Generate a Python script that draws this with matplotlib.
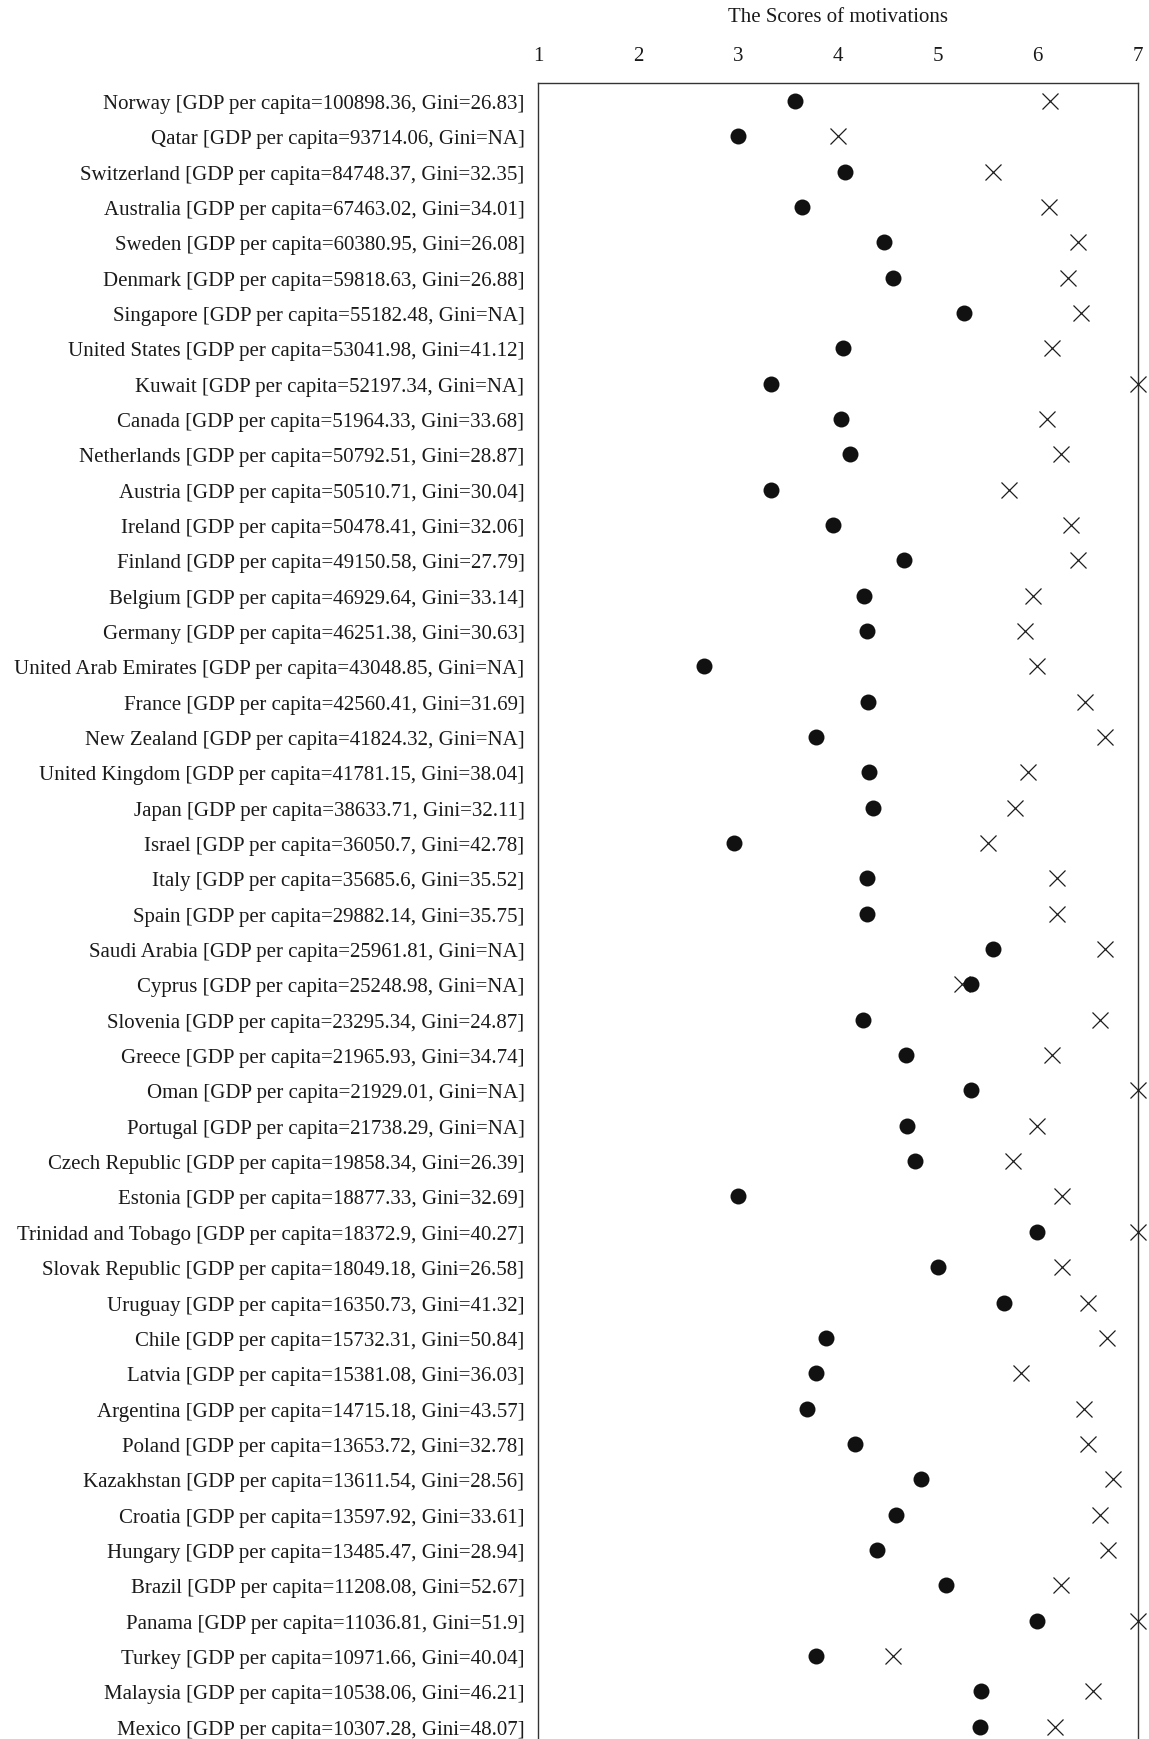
import matplotlib
matplotlib.use('Agg')
import matplotlib.pyplot as plt

plt.rcParams['font.family'] = ['Liberation Serif', 'DejaVu Serif']

countries = ['Norway', 'Qatar', 'Switzerland', 'Australia', 'Sweden', 'Denmark', 'Singapore',
             'United States', 'Kuwait', 'Canada', 'Netherlands', 'Austria', 'Ireland', 'Finland',
             'Belgium', 'Germany', 'United Arab Emirates', 'France', 'New Zealand', 'United Kingdom',
             'Japan', 'Israel', 'Italy', 'Spain', 'Saudi Arabia', 'Cyprus', 'Slovenia', 'Greece',
             'Oman', 'Portugal', 'Czech Republic', 'Estonia', 'Trinidad and Tobago', 'Slovak Republic',
             'Uruguay', 'Chile', 'Latvia', 'Argentina', 'Poland', 'Kazakhstan', 'Croatia', 'Hungary',
             'Brazil', 'Panama', 'Turkey', 'Malaysia', 'Mexico']
gdp = ['100898.36', '93714.06', '84748.37', '67463.02', '60380.95', '59818.63', '55182.48',
       '53041.98', '52197.34', '51964.33', '50792.51', '50510.71', '50478.41', '49150.58',
       '46929.64', '46251.38', '43048.85', '42560.41', '41824.32', '41781.15',
       '38633.71', '36050.7', '35685.6', '29882.14', '25961.81', '25248.98', '23295.34', '21965.93',
       '21929.01', '21738.29', '19858.34', '18877.33', '18372.9', '18049.18',
       '16350.73', '15732.31', '15381.08', '14715.18', '13653.72', '13611.54', '13597.92', '13485.47',
       '11208.08', '11036.81', '10971.66', '10538.06', '10307.28']
gini = ['26.83', 'NA', '32.35', '34.01', '26.08', '26.88', 'NA',
        '41.12', 'NA', '33.68', '28.87', '30.04', '32.06', '27.79',
        '33.14', '30.63', 'NA', '31.69', 'NA', '38.04',
        '32.11', '42.78', '35.52', '35.75', 'NA', 'NA', '24.87', '34.74',
        'NA', 'NA', '26.39', '32.69', '40.27', '26.58',
        '41.32', '50.84', '36.03', '43.57', '32.78', '28.56', '33.61', '28.94',
        '52.67', '51.9', '40.04', '46.21', '48.07']

# filled dots and crosses
dots = [3.57, 3.00, 4.07, 3.64, 4.46, 4.55, 5.26, 4.05, 3.33, 4.03, 4.12, 3.33, 3.95, 4.66,
        4.26, 4.29, 2.66, 4.30, 3.78, 4.31, 4.35, 2.96, 4.29, 4.29, 5.55, 5.33, 4.25, 4.68,
        5.33, 4.69, 4.77, 3.00, 5.99, 5.00, 5.66, 3.88, 3.78, 3.69, 4.17, 4.83, 4.58, 4.39,
        5.08, 5.99, 3.78, 5.43, 5.42]
crosses = [6.12, 4.00, 5.55, 6.11, 6.40, 6.30, 6.43, 6.14, 7.00, 6.09, 6.23, 5.71, 6.33, 6.40,
           5.95, 5.87, 5.99, 6.47, 6.67, 5.90, 5.77, 5.50, 6.19, 6.19, 6.67, 5.24, 6.62, 6.14,
           7.00, 5.99, 5.75, 6.24, 7.00, 6.24, 6.50, 6.69, 5.83, 6.46, 6.50, 6.75, 6.62, 6.70,
           6.23, 7.00, 4.55, 6.55, 6.17]

labels = [f'{c} [GDP per capita={g}, Gini={n}]' for c, g, n in zip(countries, gdp, gini)]
ypos = list(range(len(countries)))

fig = plt.figure(figsize=(11.49, 17.40), dpi=100)
ax = fig.add_axes([0.4685, -0.003, 0.5215, 0.9545])

ax.plot(crosses, ypos, linestyle='none', marker='x', markersize=11.5, markeredgewidth=0.9,
        color='#1e1e1e', clip_on=False, zorder=3)
ax.plot(dots, ypos, linestyle='none', marker='o', markersize=11.5, color='#111111',
        markeredgewidth=0, clip_on=False, zorder=4)

ax.set_xlim(1, 7)
ax.set_ylim(len(countries) - 0.5, -0.5)
ax.set_xticks([1, 2, 3, 4, 5, 6, 7])
ax.set_yticks(ypos)
ax.set_yticklabels(labels, fontsize=15.0, color='#1a1a1a')
ax.xaxis.tick_top()
ax.xaxis.set_label_position('top')
ax.tick_params(axis='x', length=0, pad=13, labelsize=15.0, labelcolor='#1a1a1a')
ax.tick_params(axis='y', length=0, pad=10)
ax.set_xlabel('The Scores of motivations', fontsize=15.0, color='#1a1a1a', labelpad=18)
for s in ax.spines.values():
    s.set_linewidth(1.0)
    s.set_color('#333333')

fig.savefig('out.png', dpi=100)
